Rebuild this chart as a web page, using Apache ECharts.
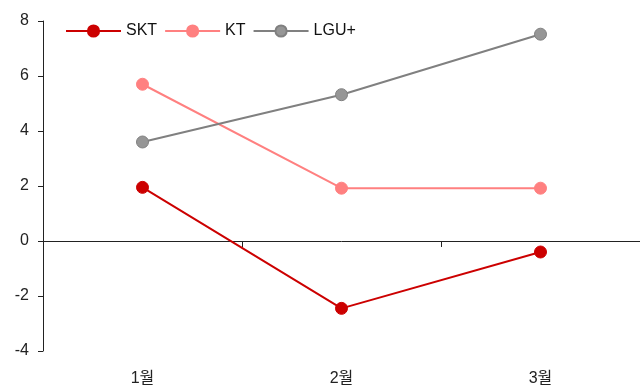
<!DOCTYPE html>
<html>
<head>
<meta charset="utf-8">
<script src="https://cdn.jsdelivr.net/npm/echarts@6/dist/echarts.min.js"></script>
<style>
  html, body { margin: 0; padding: 0; background: #fff; }
  #chart { width: 640px; height: 387px; }
</style>
</head>
<body>
<div id="chart"></div>
<script>
// Monthly change by carrier
const categories = ['1월', '2월', '3월'];
const skt = [1.95, -2.45, -0.4];
const kt = [5.7, 1.92, 1.92];
const lgu = [3.6, 5.32, 7.52];
const yTicks = { min: -4, max: 8, interval: 2 };

const FONT = 'Liberation Sans, Arial, Noto Sans CJK KR, sans-serif';

const chart = echarts.init(document.getElementById('chart'));

function lineSeries(name, data, lineColor, dotColor, borderColor) {
  return {
    name: name,
    type: 'line',
    data: data,
    symbol: 'circle',
    symbolSize: 12,
    xAxisIndex: 0,
    lineStyle: { color: lineColor, width: 2 },
    itemStyle: { color: dotColor, borderColor: borderColor, borderWidth: 1 },
    emphasis: { disabled: true },
    animation: false
  };
}

chart.setOption({
  animation: false,
  textStyle: { fontFamily: FONT },
  grid: { left: 43, top: 21, width: 600, height: 330, containLabel: false },
  legend: {
    left: 60,
    top: 18,
    itemWidth: 55,
    itemHeight: 14,
    itemGap: 7,
    textStyle: { fontSize: 16, color: '#111', fontFamily: FONT },
    data: ['SKT', 'KT', 'LGU+']
  },
  xAxis: [
    {
      // category labels along the bottom
      type: 'category',
      data: categories,
      position: 'bottom',
      boundaryGap: true,
      axisLine: { show: false, onZero: false },
      axisTick: { show: false },
      axisLabel: { fontSize: 16, color: '#222', margin: 20, fontFamily: FONT },
      splitLine: { show: false }
    },
    {
      // baseline drawn at zero with ticks between months
      type: 'category',
      data: categories,
      position: 'bottom',
      boundaryGap: true,
      axisLine: { show: true, onZero: true, onZeroAxisIndex: 0, lineStyle: { color: '#222', width: 1 } },
      axisTick: { show: true, length: 6, inside: false, lineStyle: { color: '#222' } },
      axisLabel: { show: false },
      splitLine: { show: false }
    }
  ],
  yAxis: {
    type: 'value',
    min: yTicks.min,
    max: yTicks.max,
    interval: yTicks.interval,
    axisLine: { show: true, onZero: false, lineStyle: { color: '#222', width: 1 } },
    axisTick: { show: true, length: 5, lineStyle: { color: '#222' } },
    axisLabel: { fontSize: 16, color: '#222', margin: 14, fontFamily: FONT },
    splitLine: { show: false }
  },
  series: [
    lineSeries('SKT', skt, '#cc0000', '#cc0000', '#cc0000'),
    lineSeries('KT', kt, '#ff8080', '#ff8080', '#ff8080'),
    lineSeries('LGU+', lgu, '#808080', '#969696', '#808080')
  ]
});
</script>
</body>
</html>
